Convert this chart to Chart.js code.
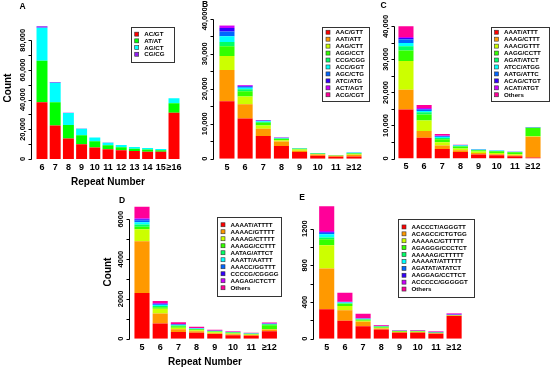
<!DOCTYPE html>
<html>
<head>
<meta charset="utf-8">
<script src="https://cdn.jsdelivr.net/npm/chart.js@4.4.0/dist/chart.umd.min.js"></script>
<style>
  body { margin: 0; background: #fff; }
  #wrap { position: relative; width: 550px; height: 370px; overflow: hidden; }
  #wrap canvas { position: absolute; }
</style>
</head>
<body>
<div id="wrap"></div>
<script>
// ---- data ----
const rainbow10 = ['#FF0000', '#FF9900', '#CCFF00', '#33FF00', '#00FF66', '#00FFFF', '#0066FF', '#3300FF', '#CC00FF', '#FF0099'];
const colorsA = ['#FF0000', '#00FF00', '#00FFFF', '#9020F0'];

const repeatsA = ['6', '7', '8', '9', '10', '11', '12', '13', '14', '15', '≥16'];
const motifsA = ['AC/GT', 'AT/AT', 'AG/CT', 'CG/CG'];
const countsA = [
  [38300, 22600, 13800, 9900, 7700, 6600, 5900, 5400, 4900, 4900, 31200],
  [27900, 15700, 9100, 6100, 4200, 2600, 2000, 1500, 1500, 1000, 6400],
  [22200, 13100, 8100, 4400, 2600, 1800, 1500, 1200, 1000, 900, 3300],
  [1100, 500, 200, 100, 60, 40, 30, 30, 20, 20, 100]
];
const yTicksA = [0, 10000, 20000, 30000, 40000, 50000, 60000, 70000, 80000];
const yLabelsA = [0, 20000, 40000, 60000, 80000];

const repeatsB = ['5', '6', '7', '8', '9', '10', '11', '≥12'];
const motifsB = ['AAC/GTT', 'AAT/ATT', 'AAG/CTT', 'AGG/CCT', 'CCG/CGG', 'ACC/GGT', 'AGC/CTG', 'ATC/ATG', 'ACT/AGT', 'ACG/CGT'];
const countsB = [
  [16400, 11500, 6500, 3600, 1900, 850, 550, 650],
  [9000, 4100, 2100, 1300, 400, 350, 200, 450],
  [4000, 2200, 900, 400, 300, 150, 100, 150],
  [2800, 1500, 800, 300, 200, 100, 80, 250],
  [1200, 600, 200, 150, 100, 80, 40, 150],
  [1600, 400, 200, 100, 50, 50, 30, 100],
  [1400, 300, 100, 100, 30, 20, 10, 30],
  [1000, 200, 100, 50, 20, 10, 5, 20],
  [600, 200, 50, 30, 10, 5, 5, 10],
  [100, 50, 20, 10, 5, 5, 3, 5]
];
const yTicksB = [0, 5000, 10000, 15000, 20000, 25000, 30000, 35000, 40000];
const yLabelsB = [0, 10000, 20000, 30000, 40000];

const repeatsC = ['5', '6', '7', '8', '9', '10', '11', '≥12'];
const motifsC = ['AAAT/ATTT', 'AAAG/CTTT', 'AAAC/GTTT', 'AAGG/CCTT', 'AGAT/ATCT', 'ATCC/ATGG', 'AATG/ATTC', 'ACAG/CTGT', 'ACAT/ATGT', 'Others'];
const countsC = [
  [14800, 6300, 2900, 2000, 1200, 1000, 700, 300],
  [6000, 2000, 1000, 500, 500, 300, 300, 6300],
  [8700, 3200, 1000, 500, 400, 400, 300, 100],
  [3200, 1800, 900, 600, 400, 500, 600, 2500],
  [1300, 700, 400, 200, 100, 100, 100, 100],
  [1000, 400, 300, 100, 100, 100, 50, 100],
  [1000, 400, 200, 100, 50, 30, 20, 20],
  [500, 200, 100, 50, 20, 20, 10, 20],
  [300, 300, 200, 50, 30, 20, 10, 30],
  [3200, 900, 400, 100, 50, 30, 10, 30]
];
const yTicksC = [0, 5000, 10000, 15000, 20000, 25000, 30000, 35000, 40000];
const yLabelsC = [0, 10000, 20000, 30000, 40000];

const repeatsD = ['5', '6', '7', '8', '9', '10', '11', '≥12'];
const motifsD = ['AAAAT/ATTTT', 'AAAAC/GTTTT', 'AAAAG/CTTTT', 'AAAGG/CCTTT', 'AATAG/ATTCT', 'AAATT/AATTT', 'AAACC/GGTTT', 'CCCCG/CGGGG', 'AAGAG/CTCTT', 'Others'];
const countsD = [
  [2300, 760, 340, 300, 240, 170, 150, 380],
  [2600, 510, 130, 70, 40, 50, 30, 80],
  [600, 230, 80, 50, 40, 40, 30, 20],
  [120, 80, 80, 50, 40, 40, 30, 200],
  [120, 60, 30, 20, 20, 20, 10, 40],
  [110, 50, 30, 20, 10, 10, 10, 20],
  [100, 40, 20, 10, 10, 10, 10, 10],
  [50, 20, 10, 10, 0, 0, 0, 0],
  [50, 40, 20, 10, 10, 10, 10, 20],
  [580, 100, 90, 60, 40, 30, 20, 40]
];
const yTicksD = [0, 1000, 2000, 3000, 4000, 5000, 6000];
const yLabelsD = [0, 2000, 4000, 6000];

const repeatsE = ['5', '6', '7', '8', '9', '10', '11', '≥12'];
const motifsE = ['AACCCT/AGGGTT', 'ACAGCC/CTGTGG', 'AAAAAC/GTTTTT', 'AGAGGG/CCCTCT', 'AAAAAG/CTTTTT', 'AAAAAT/ATTTTT', 'AGATAT/ATATCT', 'AAGGAG/CCTTCT', 'ACCCCC/GGGGGT', 'Others'];
const countsE = [
  [320, 196, 135, 100, 64, 64, 53, 249],
  [445, 114, 50, 12, 8, 8, 6, 3],
  [255, 46, 12, 8, 5, 4, 3, 2],
  [65, 24, 10, 10, 6, 5, 4, 3],
  [20, 8, 5, 3, 2, 2, 2, 1],
  [35, 6, 5, 2, 1, 1, 1, 1],
  [15, 4, 2, 2, 1, 1, 2, 2],
  [10, 2, 1, 1, 1, 1, 2, 3],
  [10, 2, 2, 2, 1, 1, 4, 8],
  [270, 98, 50, 10, 7, 6, 5, 6]
];
const yTicksE = [0, 200, 400, 600, 800, 1000, 1200];
const yLabelsE = [0, 400, 800, 1200];

// ---- layout (page pixels) ----
const FONT = '"Liberation Sans", Arial, Helvetica, sans-serif';
const X_PAD = 3, X_FONT = 9;
const X_AXIS_H = X_PAD + X_FONT * 1.2;

const panels = [
  { letter: 'A', repeats: repeatsA, motifs: motifsA, counts: countsA, colors: colorsA, ticks: yTicksA, labels: yLabelsA, comma: true,
    box: [0, 0, 185, 192], left: 35.4, right: 180.6, zero: 162, refVal: 80000, refY: 40.7, yMax: 92000, axisGap: 4.4,
    letterPos: [22.5, 6.5], count: [8.5, 88], repeat: [108, 182], legend: [130.7, 26.7, 173.5, 61.7], rowGap: 6.7 },
  { letter: 'B', repeats: repeatsB, motifs: motifsB, counts: countsB, colors: rainbow10, ticks: yTicksB, labels: yLabelsB, comma: true,
    box: [185, 0, 185, 185], left: 217.9, right: 363.1, zero: 161.7, refVal: 40000, refY: 19, yMax: 42000, axisGap: 4.6,
    letterPos: [205, 5], legend: [322, 26.5, 369, 100.5], rowGap: 6.95 },
  { letter: 'C', repeats: repeatsC, motifs: motifsC, counts: countsC, colors: rainbow10, ticks: yTicksC, labels: yLabelsC, comma: true,
    box: [370, 0, 180, 185], left: 396.9, right: 542.1, zero: 161.5, refVal: 40000, refY: 26.5, yMax: 42000, axisGap: 3,
    letterPos: [383.5, 5.5], legend: [490.5, 26.5, 548, 100.5], rowGap: 6.95 },
  { letter: 'D', repeats: repeatsD, motifs: motifsD, counts: countsD, colors: rainbow10, ticks: yTicksD, labels: yLabelsD, comma: false,
    box: [60, 185, 245, 185], left: 132.9, right: 278.5, zero: 341.7, refVal: 6000, refY: 219.7, yMax: 7000, axisGap: 4,
    letterPos: [122, 200.5], count: [108.5, 272], repeat: [205, 362], legend: [217, 217, 280.5, 295.5], rowGap: 7.0 },
  { letter: 'E', repeats: repeatsE, motifs: motifsE, counts: countsE, colors: rainbow10, ticks: yTicksE, labels: yLabelsE, comma: false,
    box: [290, 185, 260, 185], left: 317.6, right: 463.2, zero: 341.7, refVal: 1200, refY: 229.3, yMax: 1500, axisGap: 4.3,
    letterPos: [302, 198], legend: [398, 219, 473.5, 297], rowGap: 6.9 }
];

function fmt(v, comma) {
  const s = String(v);
  return comma ? s.replace(/\B(?=(\d{3})+(?!\d))/g, ',') : s;
}

function makeDecor(p) {
  const ox = p.box[0], oy = p.box[1];
  return {
    id: 'decor' + p.letter,
    afterDraw(chart) {
      const ctx = chart.ctx;
      const ys = chart.scales.y;
      const area = chart.chartArea;
      ctx.save();
      ctx.fillStyle = '#000';
      ctx.strokeStyle = '#000';
      ctx.lineWidth = 1;

      // y axis in R style
      const ax = Math.round(area.left - p.axisGap) + 0.5;
      ctx.beginPath();
      ctx.moveTo(ax, Math.round(ys.getPixelForValue(0)) + 0.5);
      ctx.lineTo(ax, Math.round(ys.getPixelForValue(p.ticks[p.ticks.length - 1])) + 0.5);
      p.ticks.forEach(v => {
        const py = Math.round(ys.getPixelForValue(v)) + 0.5;
        ctx.moveTo(ax, py);
        ctx.lineTo(ax - 3, py);
      });
      ctx.stroke();

      ctx.font = 'bold 7.5px ' + FONT;
      ctx.textAlign = 'center';
      ctx.textBaseline = 'middle';
      p.labels.forEach(v => {
        ctx.save();
        ctx.translate(ax - 8.5, ys.getPixelForValue(v));
        ctx.rotate(-Math.PI / 2);
        ctx.fillText(fmt(v, p.comma), 0, 0);
        ctx.restore();
      });

      // panel letter
      ctx.font = 'bold 8.5px ' + FONT;
      ctx.fillText(p.letter, p.letterPos[0] - ox, p.letterPos[1] - oy);

      // axis titles
      ctx.font = 'bold 10px ' + FONT;
      if (p.repeat) ctx.fillText('Repeat Number', p.repeat[0] - ox, p.repeat[1] - oy);
      if (p.count) {
        ctx.save();
        ctx.translate(p.count[0] - ox, p.count[1] - oy);
        ctx.rotate(-Math.PI / 2);
        ctx.fillText('Count', 0, 0);
        ctx.restore();
      }

      // legend box
      const lx = p.legend[0] - ox, ly = p.legend[1] - oy;
      const lw = p.legend[2] - p.legend[0], lh = p.legend[3] - p.legend[1];
      ctx.fillStyle = '#fff';
      ctx.fillRect(lx, ly, lw, lh);
      ctx.strokeStyle = '#333';
      ctx.strokeRect(Math.round(lx) + 0.5, Math.round(ly) + 0.5, Math.round(lw), Math.round(lh));
      const ds = chart.data.datasets;
      const first = ly + (lh - (ds.length - 1) * p.rowGap) / 2;
      ctx.font = 'bold 6.2px ' + FONT;
      ctx.textAlign = 'left';
      ds.forEach((d, i) => {
        const ry = first + i * p.rowGap;
        ctx.fillStyle = d.backgroundColor;
        ctx.fillRect(lx + 4, ry - 2, 4, 4);
        ctx.lineWidth = 0.6;
        ctx.strokeStyle = '#333';
        ctx.strokeRect(lx + 4, ry - 2, 4, 4);
        ctx.fillStyle = '#000';
        ctx.fillText(d.label, lx + 13.5, ry + 0.3);
      });
      ctx.restore();
    }
  };
}

const wrap = document.getElementById('wrap');

panels.forEach(p => {
  const [x, y, w, h] = p.box;
  const canvas = document.createElement('canvas');
  canvas.width = w;
  canvas.height = h;
  canvas.style.left = x + 'px';
  canvas.style.top = y + 'px';
  wrap.appendChild(canvas);

  const ppu = (p.zero - p.refY) / p.refVal;
  const top = p.zero - p.yMax * ppu;

  new Chart(canvas, {
    type: 'bar',
    data: {
      labels: p.repeats,
      datasets: p.motifs.map((m, i) => ({
        label: m,
        data: p.counts[i],
        backgroundColor: p.colors[i],
        borderWidth: 0,
        barPercentage: 0.83,
        categoryPercentage: 1
      }))
    },
    options: {
      responsive: false,
      animation: false,
      layout: {
        padding: { left: p.left - x, right: x + w - p.right, top: top - y, bottom: y + h - p.zero - X_AXIS_H }
      },
      plugins: { legend: { display: false }, tooltip: { enabled: false } },
      scales: {
        x: {
          stacked: true,
          grid: { display: false, drawTicks: false },
          border: { display: false },
          ticks: { color: '#000', padding: X_PAD, autoSkip: false, maxRotation: 0, font: { family: FONT, size: X_FONT, weight: 'bold' } }
        },
        y: { stacked: true, display: false, min: 0, max: p.yMax }
      }
    },
    plugins: [makeDecor(p)]
  });
});
</script>
</body>
</html>
